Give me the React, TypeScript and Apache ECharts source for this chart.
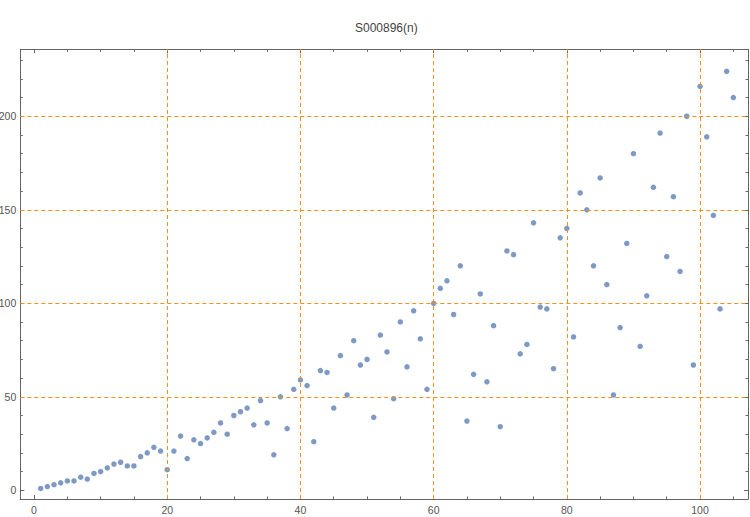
import React, { useEffect, useRef } from "react";
import * as echarts from "echarts";

const TITLE = "S000896(n)";
// S000896(n) for n = 1..105
const seqValues: number[] = [
  1, 2, 3, 4, 5, 5, 7, 6, 9, 10,
  12, 14, 15, 13, 13, 18, 20, 23, 21, 11,
  21, 29, 17, 27, 25, 28, 31, 36, 30, 40,
  42, 44, 35, 48, 36, 19, 50, 33, 54, 59,
  56, 26, 64, 63, 44, 72, 51, 80, 67, 70,
  39, 83, 74, 49, 90, 66, 96, 81, 54, 100,
  108, 112, 94, 120, 37, 62, 105, 58, 88, 34,
  128, 126, 73, 78, 143, 98, 97, 65, 135, 140,
  82, 159, 150, 120, 167, 110, 51, 87, 132, 180,
  77, 104, 162, 191, 125, 157, 117, 200, 67, 216,
  189, 147, 97, 224, 210,
];
const xLabelTicks = [0, 20, 40, 60, 80, 100];
const xMinorTicks = [0, 5, 10, 15, 20, 25, 30, 35, 40, 45, 50, 55, 60, 65, 70, 75, 80, 85, 90, 95, 100, 105];
const yLabelTicks = [0, 50, 100, 150, 200];
const yMinorTicks = [0, 10, 20, 30, 40, 50, 60, 70, 80, 90, 100, 110, 120, 130, 140, 150, 160, 170, 180, 190, 200, 210, 220, 230];
const xGrid = [20, 40, 60, 80, 100];
const yGrid = [50, 100, 150, 200];

const X_MIN = -2.06;
const X_MAX = 107.2;
const Y_MIN = -4.65;
const Y_MAX = 235.8;

const AXIS_COLOR = "#666666";
const LABEL_COLOR = "#555555";
const GRID_COLOR = "#f0901e";
const POINT_COLOR = "#5e81b5";
const FONT = "'Liberation Sans', Arial, sans-serif";

function makeAxis(kind: "x" | "y", position: string, major: boolean, showLine: boolean, showLabels: boolean) {
  const isX = kind === "x";
  return {
    type: "value",
    position,
    offset: 0,
    min: isX ? X_MIN : Y_MIN,
    max: isX ? X_MAX : Y_MAX,
    axisLine: { show: showLine, onZero: false, lineStyle: { color: AXIS_COLOR, width: 1 } },
    axisTick: {
      show: true,
      inside: true,
      length: major ? 4 : 2.5,
      customValues: major ? (isX ? xLabelTicks : yLabelTicks) : isX ? xMinorTicks : yMinorTicks,
      lineStyle: { color: AXIS_COLOR, width: 1 },
    },
    axisLabel: {
      show: showLabels,
      customValues: isX ? xLabelTicks : yLabelTicks,
      color: LABEL_COLOR,
      fontSize: 10.5,
      fontFamily: FONT,
      margin: isX ? 5 : 4,
    },
    splitLine: { show: false },
  };
}

export default function App() {
  const ref = useRef<HTMLDivElement>(null);
  useEffect(() => {
    if (!ref.current) return;
    const chart = echarts.init(ref.current, null, { renderer: "svg" });
    const points = seqValues.map((v, i) => [i + 1, v]);
    chart.setOption({
      animation: false,
      backgroundColor: "#ffffff",
      title: {
        text: TITLE,
        left: 350,
        top: 17,
        textStyle: { color: "#444444", fontSize: 12, fontWeight: "normal", fontFamily: FONT },
      },
      grid: {
        left: 20.3,
        top: 49.3,
        right: 2,
        bottom: 18,
        containLabel: false,
        outerBoundsMode: "none",
      },
      xAxis: [
        makeAxis("x", "bottom", true, true, true),
        makeAxis("x", "bottom", false, false, false),
        makeAxis("x", "top", true, true, false),
        makeAxis("x", "top", false, false, false),
      ],
      yAxis: [
        makeAxis("y", "left", true, true, true),
        makeAxis("y", "left", false, false, false),
        makeAxis("y", "right", true, true, false),
        makeAxis("y", "right", false, false, false),
      ],
      series: [
        {
          type: "scatter",
          xAxisIndex: 0,
          yAxisIndex: 0,
          data: points,
          symbol: "circle",
          symbolSize: 5.5,
          itemStyle: { color: POINT_COLOR },
          markLine: {
            silent: true,
            symbol: ["none", "none"],
            label: { show: false },
            lineStyle: { color: GRID_COLOR, type: [4, 3], width: 1 },
            data: [
              ...xGrid.map((v) => ({ xAxis: v })),
              ...yGrid.map((v) => ({ yAxis: v })),
            ],
          },
          z: 3,
        },
      ],
    });
    return () => chart.dispose();
  }, []);
  return (
    <div
      ref={ref}
      style={{ position: "fixed", left: 0, top: 0, width: 750, height: 517, background: "#fff" }}
    />
  );
}
